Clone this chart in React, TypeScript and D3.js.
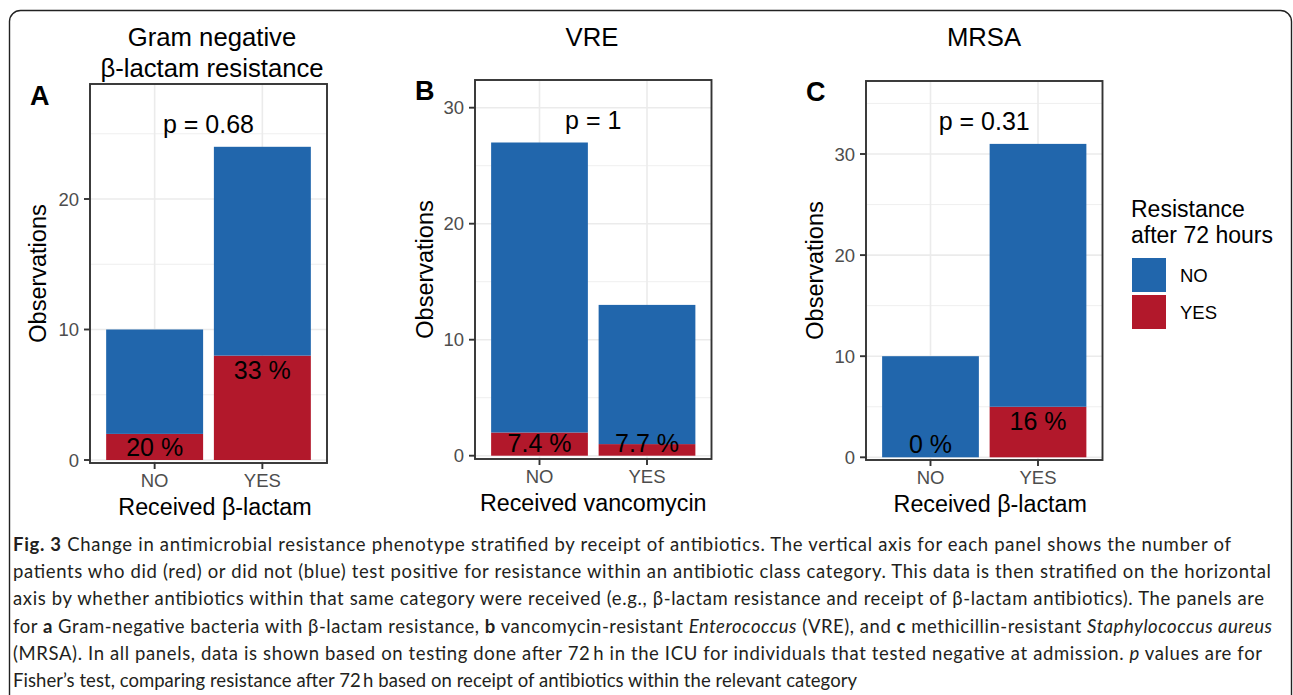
import React from "react";
import * as d3 from "d3";

// ---------- data ----------
const panelLetters = ["A", "B", "C"];
const panelTitles = [["Gram negative", "β-lactam resistance"], ["VRE"], ["MRSA"]];
const xAxisTitles = ["Received β-lactam", "Received vancomycin", "Received β-lactam"];
const yAxisTitle = "Observations";
const categories = ["NO", "YES"];
const notResistant = [
  [8, 16],
  [25, 12],
  [10, 26],
];
const resistant = [
  [2, 8],
  [2, 1],
  [0, 5],
];
const percentLabels = [
  ["20 %", "33 %"],
  ["7.4 %", "7.7 %"],
  ["0 %", "16 %"],
];
const pValues = ["p = 0.68", "p = 1", "p = 0.31"];
const yTicks = [
  [0, 10, 20],
  [0, 10, 20, 30],
  [0, 10, 20, 30],
];
const yMinorTicks = [
  [5, 15, 25],
  [5, 15, 25],
  [5, 15, 25, 35],
];
const legendTitle = ["Resistance", "after 72 hours"];
const legendLabels = ["NO", "YES"];

type Seg = { t: string; b?: boolean; i?: boolean };
const captionLines: Seg[][] = [
  [{ t: "Fig. 3", b: true }, { t: " Change in antimicrobial resistance phenotype stratified by receipt of antibiotics. The vertical axis for each panel shows the number of" }],
  [{ t: "patients who did (red) or did not (blue) test positive for resistance within an antibiotic class category. This data is then stratified on the horizontal" }],
  [{ t: "axis by whether antibiotics within that same category were received (e.g., β-lactam resistance and receipt of β-lactam antibiotics). The panels are" }],
  [
    { t: "for " }, { t: "a", b: true }, { t: " Gram-negative bacteria with β-lactam resistance, " }, { t: "b", b: true },
    { t: " vancomycin-resistant " }, { t: "Enterococcus", i: true }, { t: " (VRE), and " }, { t: "c", b: true },
    { t: " methicillin-resistant " }, { t: "Staphylococcus aureus", i: true },
  ],
  [{ t: "(MRSA). In all panels, data is shown based on testing done after 72\u2009h in the ICU for individuals that tested negative at admission. " }, { t: "p", i: true }, { t: " values are for" }],
  [{ t: "Fisher\u2019s test, comparing resistance after 72\u2009h based on receipt of antibiotics within the relevant category" }],
];
const captionLineEnds = [1231, 1271, 1264, 1272, 1262, 857];

// ---------- style ----------
const BLUE = "#2166AC";
const RED = "#B2182B";
const GRID = "#EBEBEB";
const BORDER = "#333333";
const TICKTXT = "#4D4D4D";
const FONT = "'Liberation Sans', Arial, Helvetica, sans-serif";
const CAPFONT = "Lato, 'Noto Sans', sans-serif";

// panel geometry (layout)
const geom = [
  { left: 90, right: 327, top: 84, bottom: 463, y0: 460, yRefV: 20, yRefPx: 199, titleX: 212, xTitleDx: 6.5, letterX: 30, letterY: 105, ytitleX: 38 },
  { left: 475, right: 711.5, top: 80, bottom: 459, y0: 455.7, yRefV: 30, yRefPx: 107.7, titleX: 592, xTitleDx: 0, letterX: 415, letterY: 100, ytitleX: 425 },
  { left: 866, right: 1102.5, top: 81, bottom: 460, y0: 457.3, yRefV: 30, yRefPx: 154, titleX: 984, xTitleDx: 6, letterX: 806, letterY: 101, ytitleX: 815 },
];

function Panel({ idx }: { idx: number }) {
  const g = geom[idx];
  const x = d3.scaleBand<string>().domain(categories).range([g.left, g.right]).paddingInner(0.1).paddingOuter(0.15);
  const y = d3.scaleLinear().domain([0, g.yRefV]).range([g.y0, g.yRefPx]);
  const cx = (g.left + g.right) / 2;
  const cy = (g.top + g.bottom) / 2;
  return (
    <g>
      {/* grid */}
      {yMinorTicks[idx].map((v) => (
        <line key={"mi" + v} x1={g.left} x2={g.right} y1={y(v)} y2={y(v)} stroke={GRID} strokeWidth={0.8} />
      ))}
      {yTicks[idx].map((v) => (
        <line key={"ma" + v} x1={g.left} x2={g.right} y1={y(v)} y2={y(v)} stroke={GRID} strokeWidth={1.6} />
      ))}
      {categories.map((c) => (
        <line key={"vx" + c} x1={x(c)! + x.bandwidth() / 2} x2={x(c)! + x.bandwidth() / 2} y1={g.top} y2={g.bottom} stroke={GRID} strokeWidth={1.6} />
      ))}
      {/* bars */}
      {categories.map((c, j) => {
        const r = resistant[idx][j];
        const n = notResistant[idx][j];
        return (
          <g key={"bar" + c}>
            {r > 0 && <rect x={x(c)} width={x.bandwidth()} y={y(r)} height={y(0) - y(r)} fill={RED} />}
            <rect x={x(c)} width={x.bandwidth()} y={y(r + n)} height={y(r) - y(r + n)} fill={BLUE} />
          </g>
        );
      })}
      {/* percent labels */}
      {categories.map((c, j) => {
        const ly = Math.min(y(resistant[idx][j]) + 14, y(0) - 13);
        return (
          <text key={"pl" + c} x={x(c)! + x.bandwidth() / 2} y={ly} dy="0.36em" textAnchor="middle" fontSize={25} fontFamily={FONT} fill="#000">
            {percentLabels[idx][j]}
          </text>
        );
      })}
      {/* p value */}
      <text x={cx} y={g.top + 39.5} dy="0.36em" textAnchor="middle" fontSize={25} fontFamily={FONT} fill="#000">
        {pValues[idx]}
      </text>
      {/* border */}
      <rect x={g.left} y={g.top} width={g.right - g.left} height={g.bottom - g.top} fill="none" stroke={BORDER} strokeWidth={1.9} />
      {/* y axis */}
      {yTicks[idx].map((v) => (
        <g key={"yt" + v}>
          <line x1={g.left - 6} x2={g.left} y1={y(v)} y2={y(v)} stroke={BORDER} strokeWidth={1.9} />
          <text x={g.left - 11} y={y(v)} dy="0.36em" textAnchor="end" fontSize={18.5} fontFamily={FONT} fill={TICKTXT}>
            {v}
          </text>
        </g>
      ))}
      {/* x axis */}
      {categories.map((c) => (
        <g key={"xt" + c}>
          <line x1={x(c)! + x.bandwidth() / 2} x2={x(c)! + x.bandwidth() / 2} y1={g.bottom} y2={g.bottom + 6} stroke={BORDER} strokeWidth={1.9} />
          <text x={x(c)! + x.bandwidth() / 2} y={g.bottom + 24} textAnchor="middle" fontSize={18.5} fontFamily={FONT} fill={TICKTXT}>
            {c}
          </text>
        </g>
      ))}
      <text x={cx + g.xTitleDx} y={g.bottom + 52} textAnchor="middle" fontSize={23.3} fontFamily={FONT} fill="#000">
        {xAxisTitles[idx]}
      </text>
      <text transform={`translate(${g.ytitleX},${cy}) rotate(-90)`} dy="0.36em" textAnchor="middle" fontSize={23.5} fontFamily={FONT} fill="#000">
        {yAxisTitle}
      </text>
      {/* title */}
      {panelTitles[idx].map((t, k) => (
        <text key={"ti" + k} x={g.titleX} y={46 + k * 30.5} textAnchor="middle" fontSize={25.7} fontFamily={FONT} fill="#000">
          {t}
        </text>
      ))}
      <text x={g.letterX} y={g.letterY} fontSize={27} fontWeight="bold" fontFamily={FONT} fill="#000">
        {panelLetters[idx]}
      </text>
    </g>
  );
}

export default function App() {
  const legendColors = [BLUE, RED];
  return (
    <svg width={1293} height={695} style={{ position: "absolute", left: 0, top: 0, background: "#fff" }}>
      <rect x={0} y={0} width={1293} height={695} fill="#fff" />
      <rect x={9.5} y={10.5} width={1282} height={740} rx={11} fill="none" stroke="#222" strokeWidth={1.4} />
      {[0, 1, 2].map((i) => (
        <Panel key={i} idx={i} />
      ))}
      {/* legend */}
      {legendTitle.map((t, k) => (
        <text key={"lt" + k} x={1131} y={217 + k * 26} fontSize={23} fontFamily={FONT} fill="#000">
          {t}
        </text>
      ))}
      {legendLabels.map((l, k) => (
        <g key={"lg" + l}>
          <rect x={1132} y={258 + k * 37} width={34} height={34} fill={legendColors[k]} />
          <text x={1180} y={275 + k * 37} dy="0.36em" fontSize={18.5} fontFamily={FONT} fill="#000">
            {l}
          </text>
        </g>
      ))}
      {/* caption */}
      {captionLines.map((line, k) => (
        <text
          key={"cap" + k}
          x={13}
          y={551 + k * 27.2}
          fontSize={18.5}
          fontFamily={CAPFONT}
          fill="#231F20"
          textLength={captionLineEnds[k] - 13}
          lengthAdjust="spacing"
        >
          {line.map((s, m) => (
            <tspan key={m} fontWeight={s.b ? "bold" : "normal"} fontStyle={s.i ? "italic" : "normal"}>
              {s.t}
            </tspan>
          ))}
        </text>
      ))}
    </svg>
  );
}
